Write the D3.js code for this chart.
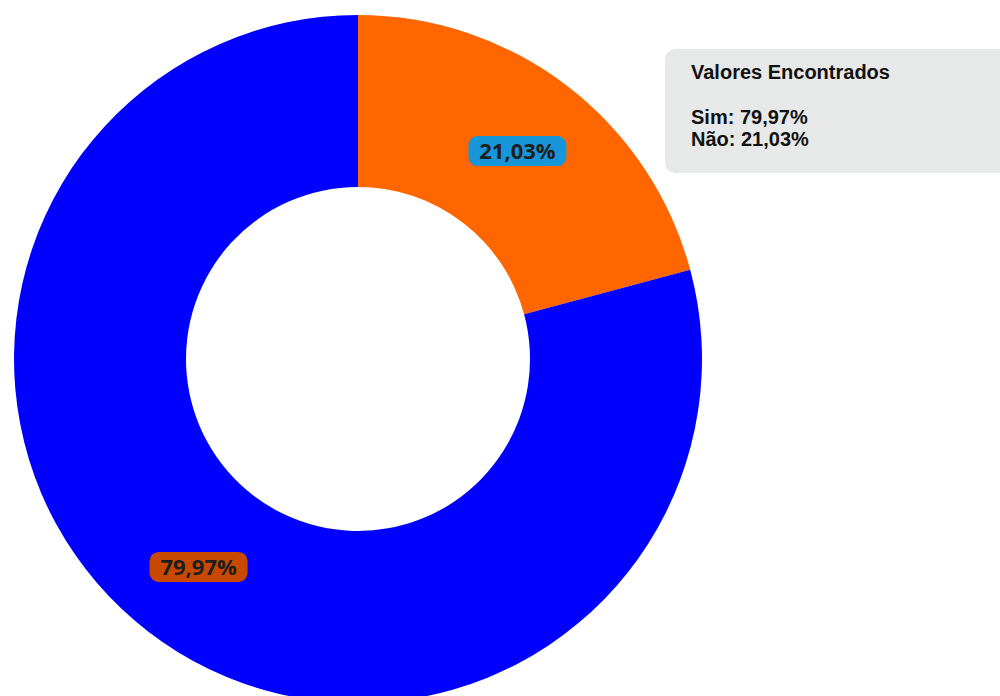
<!DOCTYPE html>
<html lang="pt">
<head>
  <meta charset="UTF-8">
  <title>Valores Encontrados</title>
  <script src="https://d3js.org/d3.v7.min.js"></script>
  <style>
    body { margin: 0; background: #fff; }
    .lbl { font: bold 22px "Open Sans", Lato, sans-serif; fill: #1e1e1e; }
    .legend text { font: bold 20px "Liberation Sans", Arial, sans-serif; fill: #111; }
  </style>
</head>
<body>
  <svg id="donut" width="1000" height="696"></svg>
  <script>
    const categories = ["Não", "Sim"];
    const values = [21.03, 79.97];
    const colors = ["#ff6600", "#0000ff"];
    const labelBg = ["#1796d9", "#c84800"];
    const legendTitle = "Valores Encontrados";
    const legendOrder = ["Sim", "Não"];

    const svg = d3.select("svg#donut");
    const cx = 358, cy = 359;
    const outerR = 344, innerR = 172;

    const fmt = v => v.toFixed(2).replace(".", ",") + "%";

    const pie = d3.pie().sort(null).value(d => d);
    const arc = d3.arc().innerRadius(innerR).outerRadius(outerR);
    const labelArc = d3.arc().innerRadius(262).outerRadius(262);
    const slices = pie(values);

    const g = svg.append("g")
                 .attr("transform", `translate(${cx},${cy})`);

    g.selectAll("path.slice")
     .data(slices)
     .enter()
     .append("path")
     .attr("class", "slice")
     .attr("d", arc)
     .style("fill", (d, i) => colors[i]);

    // labels with rounded background
    slices.forEach((d, i) => {
      const [x, y] = labelArc.centroid(d);
      const lg = g.append("g").attr("transform", `translate(${x},${y})`);
      lg.append("rect")
        .attr("x", -49)
        .attr("y", -15)
        .attr("width", 98)
        .attr("height", 30)
        .attr("rx", 9)
        .style("fill", labelBg[i]);
      lg.append("text")
        .attr("class", "lbl")
        .attr("text-anchor", "middle")
        .attr("dy", "0.36em")
        .text(fmt(values[i]));
    });

    // legend box
    const legend = svg.append("g").attr("class", "legend");
    legend.append("rect")
          .attr("x", 665)
          .attr("y", 49)
          .attr("width", 360)
          .attr("height", 124)
          .attr("rx", 10)
          .style("fill", "#e7e8e8");
    legend.append("text")
          .attr("x", 691)
          .attr("y", 79)
          .text(legendTitle);
    legendOrder.forEach((c, i) => {
      const idx = categories.indexOf(c);
      legend.append("text")
            .attr("x", 691)
            .attr("y", 124 + i * 22)
            .text(`${c}: ${fmt(values[idx])}`);
    });
  </script>
</body>
</html>
